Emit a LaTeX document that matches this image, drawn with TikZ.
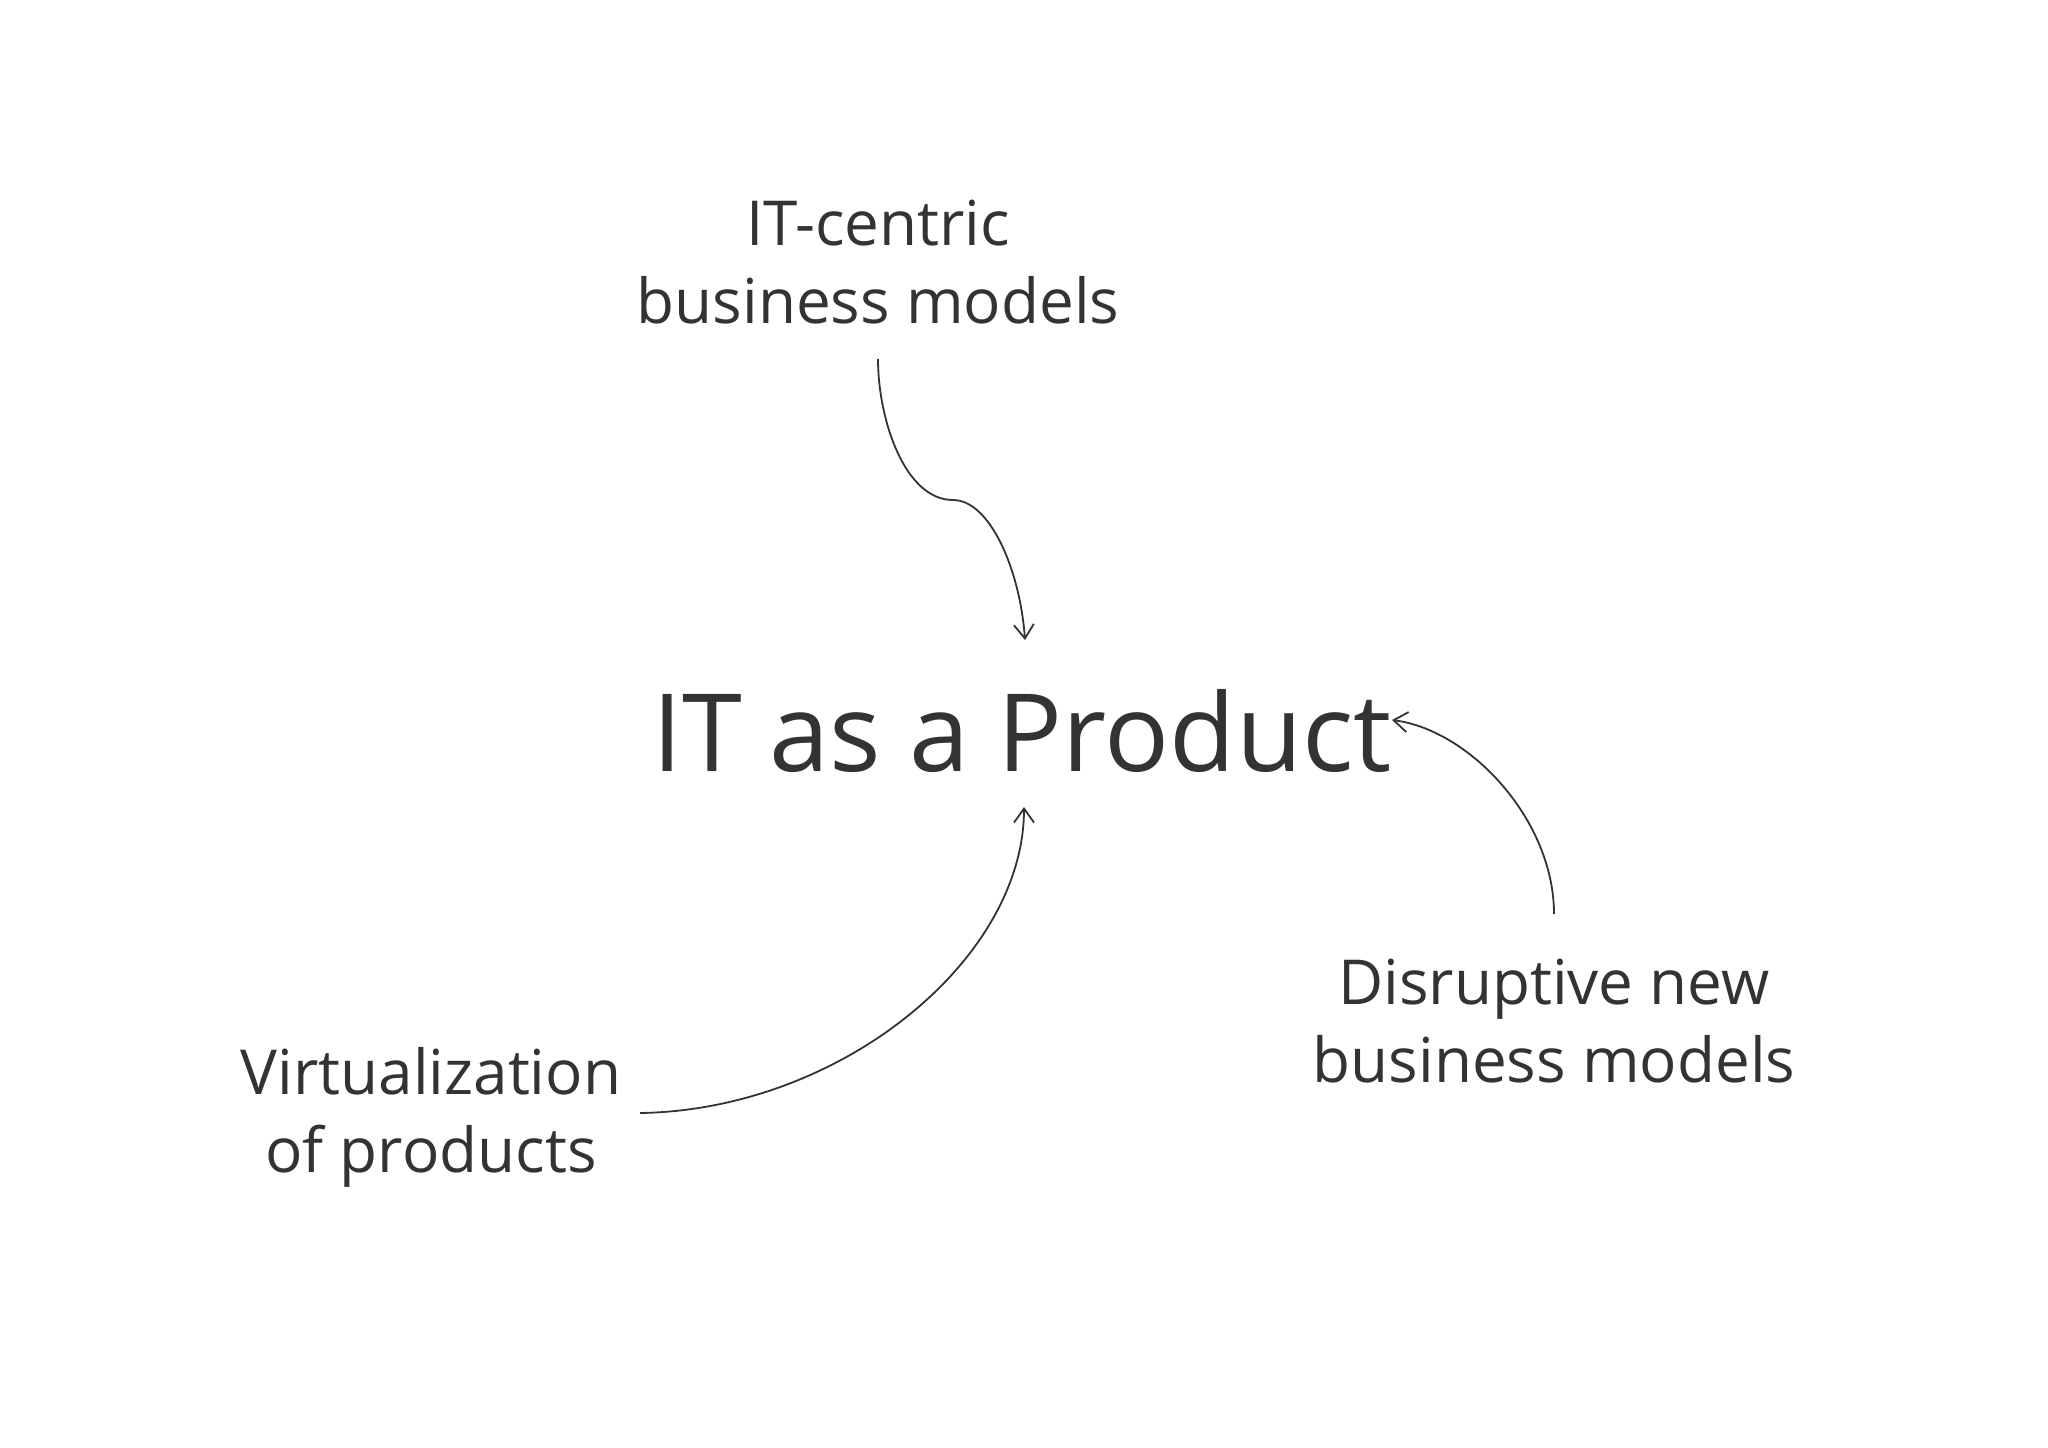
\documentclass[tikz,border=0pt]{standalone}
\usepackage{fontspec}
\setmainfont{Open Sans}
\usetikzlibrary{arrows.meta}
\definecolor{ink}{HTML}{333333}
\begin{document}
\begin{tikzpicture}[x=0.5pt,y=-0.5pt,
  lbl/.style={text=ink,align=center,font=\fontsize{31}{39}\selectfont},
  arr/.style={draw=ink,line width=0.9pt,-{Straight Barb[length=7pt,width=10pt]}}]
\useasboundingbox (0,0) rectangle (2048,1447);
\node[text=ink,font=\fontsize{54}{60}\selectfont] (main) at (1022,731) {IT as a Product};
\node[lbl] (top) at (878,262) {IT-centric\\business models};
\node[lbl] (right) at (1554,1021) {Disruptive new\\business models};
\node[lbl] (left) at (431,1117) {Virtualization\\of products};
\coordinate (t1) at (878,359);
\coordinate (tm) at (953,500);
\coordinate (t2) at (1025,640);
\coordinate (r1) at (1554,914);
\coordinate (r2) at (1392,720);
\coordinate (l1) at (640,1113);
\coordinate (l2) at (1024,807);
\draw[draw=ink,line width=0.9pt] (t1) .. controls (878,420) and (905,500) .. (tm);
\draw[arr] (tm) .. controls (990,500) and (1020,570) .. (t2);
\draw[arr] (r1) .. controls (1554,820) and (1470,730) .. (r2);
\draw[arr] (l1) .. controls (840,1110) and (1024,960) .. (l2);
\end{tikzpicture}
\end{document}
